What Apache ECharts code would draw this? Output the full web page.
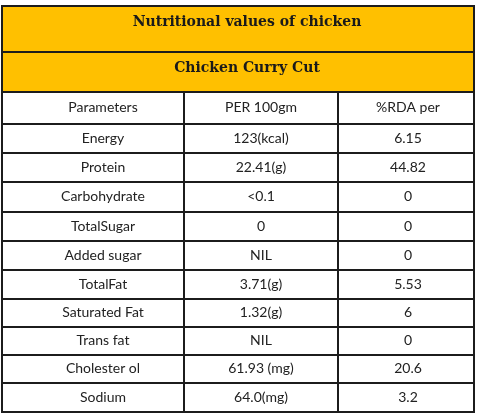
<!DOCTYPE html>
<html><head><meta charset="utf-8">
<script src="https://cdn.jsdelivr.net/npm/echarts@6/dist/echarts.min.js"></script>
<style>html,body{margin:0;padding:0;background:#fff}#c{width:480px;height:418px}</style>
</head><body><div id="c"></div>
<script>
const title = "Nutritional values of chicken";
const subtitle = "Chicken Curry Cut";
const headers = ["Parameters", "PER 100gm", "%RDA per"];
const parameters = ["Energy","Protein","Carbohydrate","TotalSugar","Added sugar","TotalFat","Saturated Fat","Trans fat","Cholester ol","Sodium"];
const per100g = ["123(kcal)","22.41(g)","<0.1","0","NIL","3.71(g)","1.32(g)","NIL","61.93 (mg)","64.0(mg)"];
const rda = ["6.15","44.82","0","0","0","5.53","6","0","20.6","3.2"];

// layout (table grid lines, in axis units)
const colEdges = [0, 182, 336, 472];
const rowEdges = [0, 46, 86, 118, 147, 176, 206, 235, 264, 293, 321, 349, 377, 406];
const colTextShift = [10, 0, 2];

const cells = [];
cells.push({value:[0,0,3,1], text:title, kind:'title'});
cells.push({value:[0,1,3,2], text:subtitle, kind:'sub'});
headers.forEach((h,i)=>cells.push({value:[i,2,i+1,3], text:h, kind:'body'}));
parameters.forEach((p,r)=>{
  [p, per100g[r], rda[r]].forEach((t,i)=>cells.push({value:[i,3+r,i+1,4+r], text:t, kind:'body'}));
});

const chart = echarts.init(document.getElementById('c'));
chart.setOption({
  animation:false,
  grid:{left:2,right:6,top:6,bottom:6},
  xAxis:{type:'value',min:0,max:472,show:false},
  yAxis:{type:'value',min:0,max:406,inverse:true,show:false},
  series:[{
    type:'custom',
    data:cells,
    renderItem:function(params, api){
      const d = cells[params.dataIndex];
      const v = d.value;
      const p0 = api.coord([colEdges[v[0]], rowEdges[v[1]]]);
      const p1 = api.coord([colEdges[v[2]], rowEdges[v[3]]]);
      const head = d.kind !== 'body';
      let cx = (p0[0]+p1[0])/2;
      let cy = (p0[1]+p1[1])/2;
      if (d.kind==='title') { cy -= 7; cx += 9; }
      else if (d.kind==='sub') { cy -= 3.5; cx += 9; }
      else { cy -= 0.5; cx += colTextShift[v[0]]; }
      return {type:'group',children:[
        {type:'rect',shape:{x:p0[0],y:p0[1],width:p1[0]-p0[0],height:p1[1]-p0[1]},
         style:{fill:head?'#FFC000':'#ffffff',stroke:'#1c1c1c',lineWidth:2}},
        {type:'text',x:cx,y:cy,style:{text:d.text,align:'center',verticalAlign:'middle',
          fill:head?'#1a1a1a':'#222222',
          font:head?'bold 14px "DejaVu Serif", serif':'14px Lato, sans-serif'}}
      ]};
    }
  }]
});
</script></body></html>
